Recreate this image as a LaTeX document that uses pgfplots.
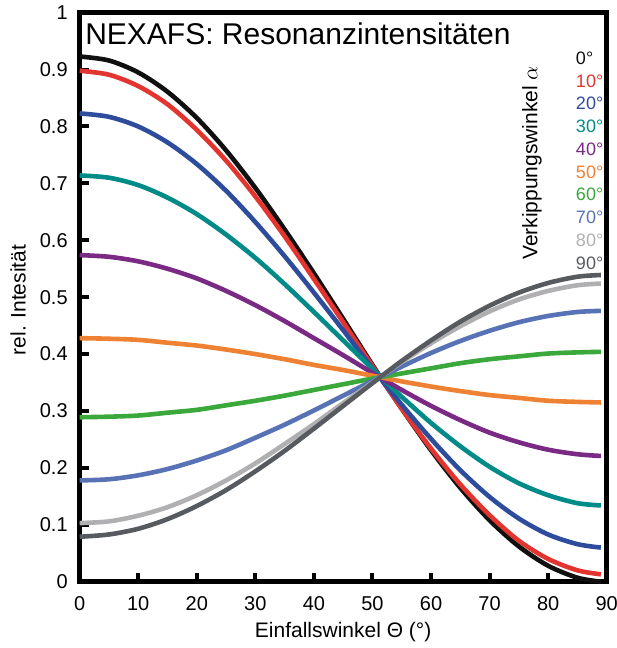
\documentclass[border=0pt]{standalone}
\usepackage{fontspec}
\setmainfont{Liberation Sans}
\usepackage{pgfplots}
\pgfplotsset{compat=1.18}

% curve colours
\definecolor{a00}{HTML}{101010}
\definecolor{a10}{HTML}{E2352F}
\definecolor{a20}{HTML}{2E4C9C}
\definecolor{a30}{HTML}{008A88}
\definecolor{a40}{HTML}{7A2A84}
\definecolor{a50}{HTML}{EE8232}
\definecolor{a60}{HTML}{3BA83B}
\definecolor{a70}{HTML}{5872B6}
\definecolor{a80}{HTML}{B0B0B2}
\definecolor{a90}{HTML}{575B5F}

\begin{document}
\begin{tikzpicture}
\begin{axis}[
    name=ax,
    scale only axis,
    width=263.5pt, height=284.5pt,
    xmin=0, xmax=90, ymin=0, ymax=1,
    xtick={0,10,20,30,40,50,60,70,80,90},
    ytick={0,0.1,0.2,0.3,0.4,0.5,0.6,0.7,0.8,0.9,1},
    axis line style={line width=2.4pt, line join=miter},
    tick align=inside, xtick pos=bottom, ytick pos=left,
    major tick length=4.5pt,
    tick style={line width=2pt, black},
    ticklabel style={font=\fontsize{10}{12}\selectfont},
    /pgf/number format/assume math mode=true,
    yticklabel style={xshift=-2.5pt},
    xticklabel style={yshift=-4pt},
    every axis plot/.append style={line width=2.3pt, smooth, no markers},
    clip=false,
]

% alpha = 0
\addplot[a00] coordinates {(0,0.923) (5,0.916) (10,0.895) (15,0.861) (20,0.815) (25,0.758) (30,0.692) (35,0.619) (40,0.542) (45,0.462) (50,0.381) (55,0.304) (60,0.231) (65,0.165) (70,0.108) (75,0.062) (80,0.028) (85,0.007) (89,0.000)};
% alpha = 10
\addplot[a10] coordinates {(0,0.898) (5,0.891) (10,0.871) (15,0.839) (20,0.794) (25,0.740) (30,0.677) (35,0.607) (40,0.532) (45,0.456) (50,0.379) (55,0.304) (60,0.234) (65,0.171) (70,0.117) (75,0.072) (80,0.040) (85,0.020) (89,0.013)};
% alpha = 20
\addplot[a20] coordinates {(0,0.823) (5,0.817) (10,0.800) (15,0.772) (20,0.734) (25,0.687) (30,0.632) (35,0.572) (40,0.508) (45,0.442) (50,0.375) (55,0.311) (60,0.251) (65,0.196) (70,0.149) (75,0.111) (80,0.083) (85,0.066) (89,0.060)};
% alpha = 30
\addplot[a30] coordinates {(0,0.714) (5,0.710) (10,0.697) (15,0.675) (20,0.646) (25,0.610) (30,0.569) (35,0.523) (40,0.474) (45,0.424) (50,0.374) (55,0.325) (60,0.279) (65,0.238) (70,0.202) (75,0.173) (80,0.152) (85,0.138) (89,0.134)};
% alpha = 40
\addplot[a40] coordinates {(0,0.574) (5,0.571) (10,0.563) (15,0.550) (20,0.533) (25,0.511) (30,0.486) (35,0.458) (40,0.428) (45,0.398) (50,0.367) (55,0.337) (60,0.309) (65,0.284) (70,0.262) (75,0.245) (80,0.232) (85,0.224) (89,0.221)};
% alpha = 50
\addplot[a50] coordinates {(0,0.428) (5,0.427) (10,0.425) (15,0.420) (20,0.415) (25,0.408) (30,0.400) (35,0.391) (40,0.381) (45,0.372) (50,0.362) (55,0.352) (60,0.343) (65,0.335) (70,0.328) (75,0.323) (80,0.318) (85,0.316) (89,0.315)};
% alpha = 60
\addplot[a60] coordinates {(0,0.289) (5,0.290) (10,0.292) (15,0.297) (20,0.302) (25,0.310) (30,0.318) (35,0.327) (40,0.337) (45,0.347) (50,0.357) (55,0.366) (60,0.375) (65,0.384) (70,0.391) (75,0.396) (80,0.401) (85,0.403) (89,0.404)};
% alpha = 70
\addplot[a70] coordinates {(0,0.178) (5,0.180) (10,0.187) (15,0.198) (20,0.213) (25,0.231) (30,0.253) (35,0.276) (40,0.301) (45,0.327) (50,0.353) (55,0.378) (60,0.402) (65,0.423) (70,0.441) (75,0.456) (80,0.467) (85,0.474) (89,0.476)};
% alpha = 80
\addplot[a80] coordinates {(0,0.103) (5,0.106) (10,0.116) (15,0.131) (20,0.152) (25,0.178) (30,0.208) (35,0.242) (40,0.277) (45,0.314) (50,0.350) (55,0.386) (60,0.419) (65,0.449) (70,0.475) (75,0.496) (80,0.511) (85,0.521) (89,0.524)};
% alpha = 90
\addplot[a90] coordinates {(0,0.079) (5,0.083) (10,0.093) (15,0.110) (20,0.133) (25,0.161) (30,0.194) (35,0.230) (40,0.269) (45,0.309) (50,0.349) (55,0.388) (60,0.424) (65,0.457) (70,0.485) (75,0.508) (80,0.525) (85,0.536) (89,0.539)};

% title inside the frame
\node[anchor=base west, font=\fontsize{15}{18}\selectfont, inner sep=0pt]
  at ([xshift=2.6pt, yshift=-16pt]rel axis cs:0,1) {NEXAFS: Resonanzintensitäten};

% tilt angle key
\node[rotate=90, font=\fontsize{10.5}{12}\selectfont, inner sep=0pt]
  at (rel axis cs:0.858,0.736) {Verkippungswinkel $\alpha$};
\begin{scope}[every node/.style={anchor=west, inner sep=0pt, font=\fontsize{9}{10}\selectfont}]
\node[text=a00] at (rel axis cs:0.941,0.920) {0°};
\node[text=a10] at (rel axis cs:0.941,0.880) {10°};
\node[text=a20] at (rel axis cs:0.941,0.840) {20°};
\node[text=a30] at (rel axis cs:0.941,0.800) {30°};
\node[text=a40] at (rel axis cs:0.941,0.760) {40°};
\node[text=a50] at (rel axis cs:0.941,0.720) {50°};
\node[text=a60] at (rel axis cs:0.941,0.680) {60°};
\node[text=a70] at (rel axis cs:0.941,0.640) {70°};
\node[text=a80] at (rel axis cs:0.941,0.600) {80°};
\node[text=a90] at (rel axis cs:0.941,0.560) {90°};
\end{scope}

% axis titles
\node[anchor=base, font=\fontsize{10.5}{12}\selectfont, inner sep=0pt]
  at ([yshift=-28pt]rel axis cs:0.5,0) {Einfallswinkel Θ (°)};
\node[anchor=base, rotate=90, font=\fontsize{10.5}{12}\selectfont, inner sep=0pt]
  at ([xshift=-27pt]rel axis cs:0,0.495) {rel. Intesität};
\end{axis}
\pgfresetboundingbox
\path ([xshift=-39.85pt, yshift=-33.15pt]ax.south west) rectangle ([xshift=5pt, yshift=6.35pt]ax.north east);
\end{tikzpicture}
\end{document}
